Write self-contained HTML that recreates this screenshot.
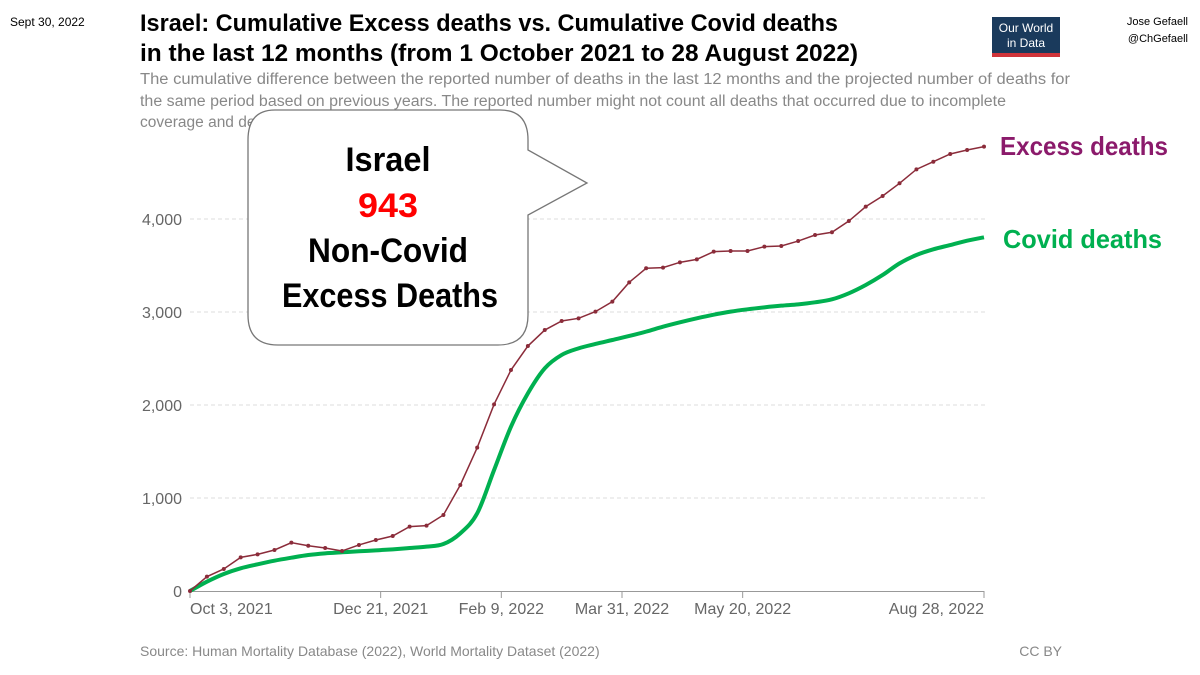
<!DOCTYPE html>
<html><head><meta charset="utf-8"><style>
html,body{margin:0;padding:0;background:#fff;}
svg{display:block;font-family:"Liberation Sans",sans-serif;}
</style></head><body>
<svg id="chart" width="1200" height="675" viewBox="0 0 1200 675">
<text x="10" y="26" font-size="12" fill="#000">Sept 30, 2022</text>
<text x="140" y="31" font-size="24" font-weight="bold" textLength="698" lengthAdjust="spacingAndGlyphs">Israel: Cumulative Excess deaths vs. Cumulative Covid deaths</text>
<text x="140" y="61" font-size="24" font-weight="bold" textLength="718" lengthAdjust="spacingAndGlyphs">in the last 12 months (from 1 October 2021 to 28 August 2022)</text>
<g>
<rect x="992" y="17" width="68" height="40" fill="#1a3a5c"/>
<rect x="992" y="53" width="68" height="4" fill="#d0343a"/>
<text x="1026" y="32" font-size="12" fill="#fff" text-anchor="middle">Our World</text>
<text x="1026" y="47" font-size="12" fill="#fff" text-anchor="middle">in Data</text>
</g>
<text x="1188" y="25" font-size="11" text-anchor="end">Jose Gefaell</text>
<text x="1188" y="42" font-size="11" text-anchor="end">@ChGefaell</text>
<g fill="#888" font-size="15.5">
<text x="140" y="84" textLength="930" lengthAdjust="spacingAndGlyphs">The cumulative difference between the reported number of deaths in the last 12 months and the projected number of deaths for</text>
<text x="140" y="106" textLength="866" lengthAdjust="spacingAndGlyphs">the same period based on previous years. The reported number might not count all deaths that occurred due to incomplete</text>
<text x="140" y="127">coverage and delays in reporting.</text>
</g>
<g id="grid"></g>
<g id="axes"></g>
<g id="series"></g>
<g>
<path d="M275,110 H500 Q528,110 528,140 V150 L587,183 L528,215 V315 Q528,345 498,345 H278 Q248,345 248,315 V140 Q248,110 275,110 Z" fill="#fff" stroke="#777" stroke-width="1.3"/>
<g font-weight="bold" font-size="34" text-anchor="middle">
<text x="388" y="171" textLength="85" lengthAdjust="spacingAndGlyphs">Israel</text>
<text x="388" y="217" fill="#f00" textLength="60" lengthAdjust="spacingAndGlyphs">943</text>
<text x="388" y="262" textLength="160" lengthAdjust="spacingAndGlyphs">Non-Covid</text>
<text x="390" y="307" textLength="216" lengthAdjust="spacingAndGlyphs">Excess Deaths</text>
</g>
</g>
<text x="1000" y="155" font-size="26" font-weight="bold" fill="#8b1a6b" textLength="168" lengthAdjust="spacingAndGlyphs">Excess deaths</text>
<text x="1003" y="248" font-size="26" font-weight="bold" fill="#00b050" textLength="159" lengthAdjust="spacingAndGlyphs">Covid deaths</text>
<text x="140" y="656" font-size="14" fill="#888">Source: Human Mortality Database (2022), World Mortality Dataset (2022)</text>
<text x="1062" y="656" font-size="14" fill="#888" text-anchor="end">CC BY</text>
</svg>
<script>
const excessDeaths=[0,154,237,362,394,441,520,487,462,430,495,548,591,692,703,817,1140,1541,2007,2376,2634,2806,2903,2932,3004,3111,3319,3470,3477,3534,3566,3649,3656,3656,3703,3710,3763,3828,3857,3978,4133,4247,4384,4534,4616,4699,4742,4778];
const covidDeaths=[0,100,183,244,287,326,358,387,405,416,427,437,448,462,477,505,620,835,1301,1767,2125,2394,2538,2609,2656,2699,2742,2789,2842,2889,2932,2971,3004,3029,3050,3068,3082,3104,3136,3201,3290,3398,3523,3613,3674,3720,3767,3803];
const yTicks=[0,1000,2000,3000,4000];
const yTickLabels=["0","1,000","2,000","3,000","4,000"];
const xTickDays=[0,79,129,179,229,329];
const xTickLabels=["Oct 3, 2021","Dec 21, 2021","Feb 9, 2022","Mar 31, 2022","May 20, 2022","Aug 28, 2022"];

const NS="http://www.w3.org/2000/svg";
const X0=190,X1=984,TOTAL_DAYS=329,Y0=591,PXPER=0.093;
const xDay=d=>X0+d*(X1-X0)/TOTAL_DAYS;
const xIdx=i=>xDay(i*7);
const y=v=>Y0-v*PXPER;
function mk(tag,attrs,parent){const e=document.createElementNS(NS,tag);for(const k in attrs)e.setAttribute(k,attrs[k]);parent.appendChild(e);return e;}
const grid=document.getElementById('grid'),axes=document.getElementById('axes'),series=document.getElementById('series');
yTicks.forEach((v,i)=>{
  if(v>0){const l=mk('line',{x1:X0,x2:X1+2,y1:y(v),y2:y(v),stroke:'#ddd','stroke-dasharray':'4,3'},grid);
  
  }
  const t=mk('text',{x:182,y:y(v)+6,'font-size':16,fill:'#666','text-anchor':'end'},axes);
  t.textContent=yTickLabels[i];
  
  
});
const ax=mk('line',{x1:X0,x2:X1,y1:Y0+0.5,y2:Y0+0.5,stroke:'#999','stroke-width':1},axes);


xTickDays.forEach((d,i)=>{
  const tk=mk('line',{x1:xDay(d),x2:xDay(d),y1:Y0,y2:Y0+7,stroke:'#999'},axes);
  
  
  const anchor=i===0?'start':(i===xTickDays.length-1?'end':'middle');
  const t=mk('text',{x:xDay(d),y:614,'font-size':16,fill:'#666','text-anchor':anchor},axes);
  t.textContent=xTickLabels[i];
  
  
});
const cp=covidDeaths.map((v,i)=>[xIdx(i),y(v)]);
let d='M'+cp[0][0]+','+cp[0][1];
for(let i=0;i<cp.length-1;i++){const p0=cp[Math.max(0,i-1)],p1=cp[i],p2=cp[i+1],p3=cp[Math.min(cp.length-1,i+2)];
  d+=` C${p1[0]+(p2[0]-p0[0])/6},${p1[1]+(p2[1]-p0[1])/6} ${p2[0]-(p3[0]-p1[0])/6},${p2[1]-(p3[1]-p1[1])/6} ${p2[0]},${p2[1]}`;}
const cl=mk('path',{d:d,fill:'none',stroke:'#00b050','stroke-width':4,'stroke-linejoin':'round'},series);


const el=mk('polyline',{points:excessDeaths.map((v,i)=>xIdx(i)+','+y(v)).join(' '),fill:'none',stroke:'#8b2c3a','stroke-width':1.5},series);


excessDeaths.forEach((v,i)=>{
  const c=mk('circle',{cx:xIdx(i),cy:y(v),r:2,fill:'#8b2c3a'},series);
  
  
});
</script>
</body></html>
